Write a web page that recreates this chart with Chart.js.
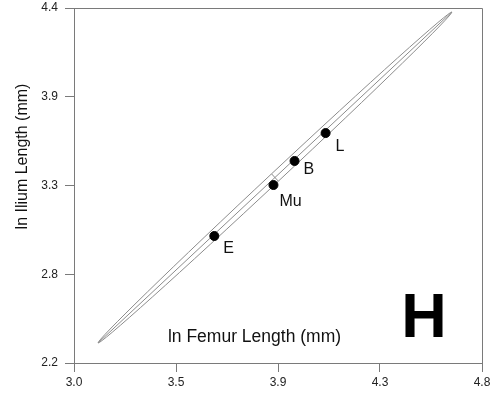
<!DOCTYPE html>
<html>
<head>
<meta charset="utf-8">
<script src="https://cdn.jsdelivr.net/npm/chart.js@4/dist/chart.umd.min.js"></script>
<style>
  html, body { margin: 0; padding: 0; background: #fff; }
</style>
</head>
<body>
<canvas id="boneChart" width="500" height="412"></canvas>
<script>
// ln femur vs ln ilium, one point per taxon
const taxa = ['E', 'Mu', 'B', 'L'];
const femurLn = [3.619, 3.880, 3.973, 4.110];
const iliumLn = [2.987, 3.303, 3.452, 3.625];

// 95% ellipse: ends of the major axis and of the minor axis
const majorAxis = [[3.106, 2.324], [4.667, 4.375]];
const minorAxis = [[3.8714, 3.3721], [3.9016, 3.3269]];

// axis ticks
const xTickValues = [3.0, 3.45, 3.9, 4.35, 4.8];
const xTickLabels = ['3.0', '3.5', '3.9', '4.3', '4.8'];
const yTickValues = [2.2, 2.75, 3.3, 3.85, 4.4];
const yTickLabels = ['2.2', '2.8', '3.3', '3.9', '4.4'];

const FONT = "Arial, 'Liberation Sans', sans-serif";
const AXIS_GREY = '#7a7a7a';

// where each taxon name sits relative to its dot (px)
const labelNudge = [[9, 17], [6, 21], [9, 13], [10, 18]];

const ellipsePlugin = {
  id: 'ellipse',
  beforeDatasetsDraw(chart) {
    const { ctx, scales: { x, y } } = chart;
    const px = p => [x.getPixelForValue(p[0]), y.getPixelForValue(p[1])];
    const [a1, a2] = majorAxis.map(px);
    const [b1, b2] = minorAxis.map(px);
    const cx = (a1[0] + a2[0]) / 2;
    const cy = (a1[1] + a2[1]) / 2;
    const rx = Math.hypot(a2[0] - a1[0], a2[1] - a1[1]) / 2;
    const ry = Math.hypot(b2[0] - b1[0], b2[1] - b1[1]) / 2;
    const rot = Math.atan2(a2[1] - a1[1], a2[0] - a1[0]);

    ctx.save();
    ctx.strokeStyle = '#8c8c8c';
    ctx.lineWidth = 1;
    ctx.beginPath();
    ctx.ellipse(cx, cy, rx, ry, rot, 0, Math.PI * 2);
    ctx.stroke();
    ctx.beginPath();
    ctx.moveTo(a1[0], a1[1]);
    ctx.lineTo(a2[0], a2[1]);
    ctx.moveTo(b1[0], b1[1]);
    ctx.lineTo(b2[0], b2[1]);
    ctx.stroke();
    ctx.restore();
  }
};

const decorPlugin = {
  id: 'decor',
  afterDraw(chart) {
    const { ctx, chartArea: area, scales: { x, y } } = chart;
    ctx.save();

    // frame on top and right
    ctx.strokeStyle = AXIS_GREY;
    ctx.lineWidth = 1;
    ctx.beginPath();
    ctx.moveTo(area.left, area.top + 0.5);
    ctx.lineTo(area.right + 0.5, area.top + 0.5);
    ctx.lineTo(area.right + 0.5, area.bottom);
    ctx.stroke();

    // taxon names
    ctx.fillStyle = '#111';
    ctx.font = '16px ' + FONT;
    ctx.textAlign = 'left';
    ctx.textBaseline = 'alphabetic';
    taxa.forEach((name, i) => {
      const px = x.getPixelForValue(femurLn[i]);
      const py = y.getPixelForValue(iliumLn[i]);
      ctx.fillText(name, px + labelNudge[i][0], py + labelNudge[i][1]);
    });

    // x title sits inside the plot
    ctx.font = '17.5px ' + FONT;
    ctx.textAlign = 'center';
    ctx.fillText('ln Femur Length (mm)', 254.5, 342);

    // y title
    ctx.save();
    ctx.translate(27, 156.5);
    ctx.rotate(-Math.PI / 2);
    ctx.font = '16px ' + FONT;
    ctx.fillText('ln Ilium Length (mm)', 0, 0);
    ctx.restore();

    // panel letter
    ctx.font = 'bold 63px ' + FONT;
    ctx.fillStyle = '#000';
    ctx.fillText('H', 424, 337);

    ctx.restore();
  }
};

new Chart(document.getElementById('boneChart'), {
  type: 'scatter',
  data: {
    datasets: [{
      data: femurLn.map((v, i) => ({ x: v, y: iliumLn[i] })),
      backgroundColor: '#000',
      borderColor: '#000',
      pointRadius: 4.5,
      pointHoverRadius: 4.5
    }]
  },
  options: {
    responsive: false,
    animation: false,
    devicePixelRatio: 1,
    layout: { padding: { top: 8, right: 18, left: 0, bottom: 0 } },
    plugins: {
      legend: { display: false },
      tooltip: { enabled: false }
    },
    scales: {
      x: {
        type: 'linear',
        min: 3.0,
        max: 4.8,
        afterBuildTicks: scale => { scale.ticks = xTickValues.map(v => ({ value: v })); },
        afterFit: scale => { scale.height = 49; },
        grid: { drawOnChartArea: false, drawTicks: true, tickLength: 9, color: AXIS_GREY },
        border: { color: AXIS_GREY, width: 1 },
        ticks: {
          padding: 3,
          color: '#222',
          font: { family: FONT, size: 12 },
          maxRotation: 0,
          callback: (v, i) => xTickLabels[i]
        }
      },
      y: {
        type: 'linear',
        min: 2.2,
        max: 4.4,
        afterBuildTicks: scale => { scale.ticks = yTickValues.map(v => ({ value: v })); },
        afterFit: scale => {
          scale.width = 74;
          scale.paddingTop = 0;
          scale.paddingBottom = 0;
        },
        grid: { drawOnChartArea: false, drawTicks: true, tickLength: 9, color: AXIS_GREY },
        border: { color: AXIS_GREY, width: 1 },
        ticks: {
          padding: 7,
          color: '#222',
          font: { family: FONT, size: 12 },
          callback: (v, i) => yTickLabels[i]
        }
      }
    }
  },
  plugins: [ellipsePlugin, decorPlugin]
});
</script>
</body>
</html>
